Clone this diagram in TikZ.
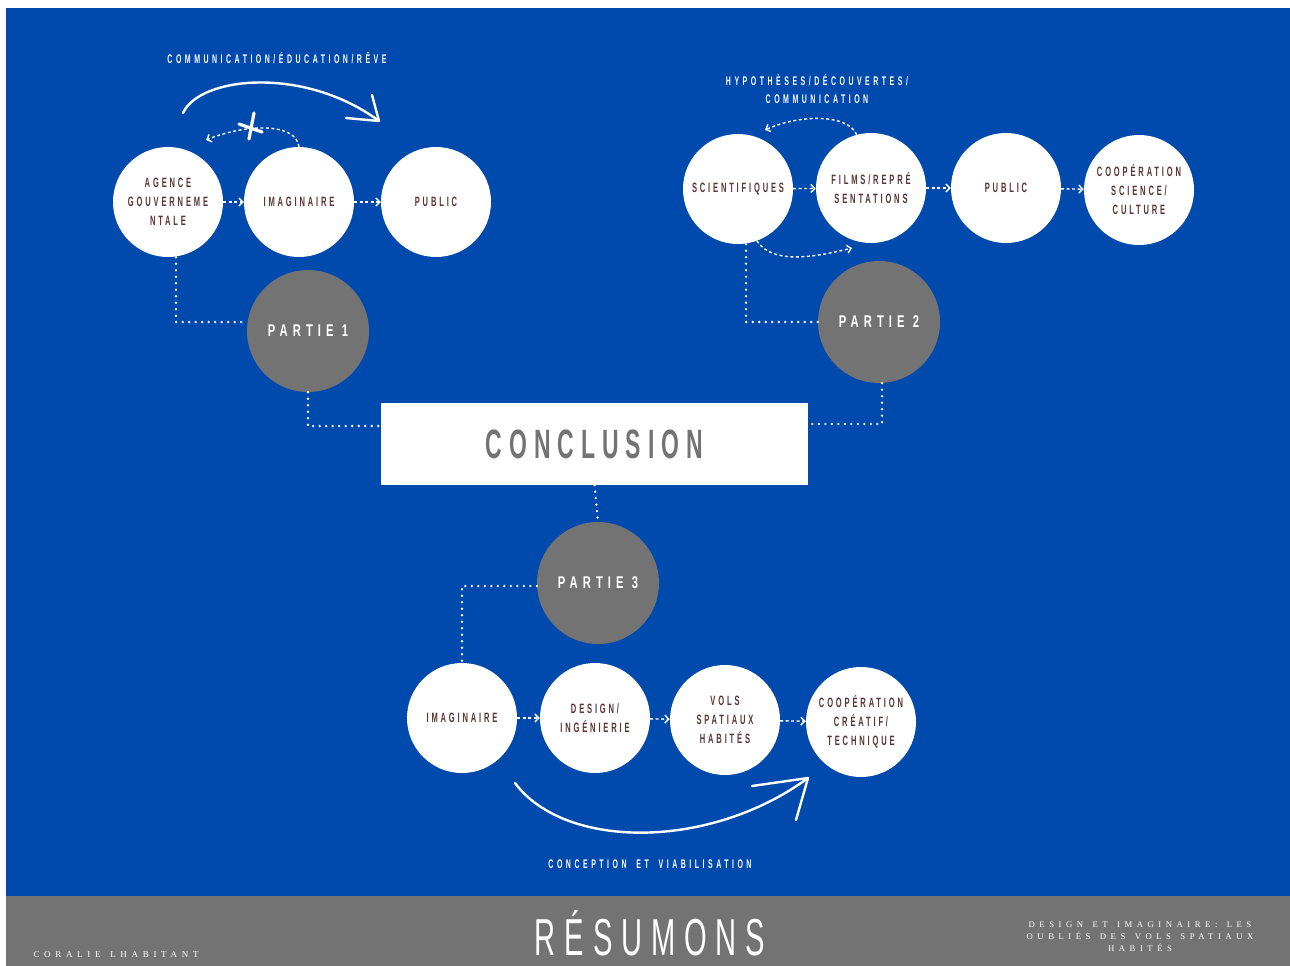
\documentclass[tikz,border=0pt]{standalone}
\usepackage{fontspec}
\usetikzlibrary{arrows.meta}
\setmainfont{Liberation Serif}
\newfontfamily\condfont[FakeStretch=0.66]{Liberation Sans}
\newfontfamily\narrowfont[FakeStretch=0.56, WordSpace=1.8]{Liberation Sans}
\newfontfamily\footfont[LetterSpace=52, WordSpace=1.4]{Liberation Serif}
\definecolor{bgblue}{HTML}{004AAD}
\definecolor{partgray}{HTML}{737373}
\definecolor{ink}{HTML}{5A3535}
\newcommand\circfont{\narrowfont\bfseries\fontsize{13.5}{19}\selectfont\addfontfeature{LetterSpace=21}}
\newcommand\labfont{\narrowfont\bfseries\fontsize{12.5}{18}\selectfont\addfontfeature{LetterSpace=28}}
\newcommand\partfont{\condfont\bfseries\fontsize{17}{20}\selectfont\addfontfeature{LetterSpace=30}}
\begin{document}
\begin{tikzpicture}[x=1pt, y=-1pt,
	circ/.style={circle, fill=white, minimum size=110, inner sep=0pt,
		align=center, text=ink, font=\circfont},
	part/.style={circle, fill=partgray, minimum size=122, inner sep=0pt,
		text=white, font=\partfont},
	lab/.style={text=white, align=center, font=\labfont},
	flow/.style={white, line width=1.4pt, dash pattern=on 3pt off 2.5pt,
		-{Straight Barb[length=4pt, width=8pt]}},
	dots/.style={white, line width=2.6pt, line cap=round,
		dash pattern=on 0pt off 6.5pt},
	chalk/.style={white, line width=2.4pt, line cap=round, line join=round}]
	\useasboundingbox (0,0) rectangle (1290,966);
	\fill[white] (0,0) rectangle (1290,966);
	\fill[bgblue] (6,8) rectangle (1290,896);
	\fill[partgray] (6,896) rectangle (1290,966);

	% partie 1
	\node[circ] (ag1) at (168,202) {AGENCE\\GOUVERNEME\\NTALE};
	\node[circ] (im1) at (299,202) {IMAGINAIRE};
	\node[circ] (pu1) at (436,202) {PUBLIC};
	\node[part] (p1) at (308,331) {PARTIE 1};
	\node[lab] (t1) at (277,58) {COMMUNICATION/ÉDUCATION/RÊVE};
	\coordinate (back1) at (206,140);
	\coordinate (c1s) at (183,113);
	\coordinate (c1e) at (379,121);
	\draw[flow] (ag1) -- (im1);
	\draw[flow] (im1) -- (pu1);
	\draw[flow] (im1.north) .. controls (296,122) and (245,124) .. (back1);
	\draw[chalk, line width=3.2pt] (254,113) -- (249,139) (239,124) -- (262,132);
	\draw[chalk] (c1s) .. controls (200,76) and (305,66) .. (c1e);
	\draw[chalk] (372,95) -- (c1e) -- (346,118);

	% partie 2
	\node[circ] (sc2) at (738,189) {SCIENTIFIQUES};
	\node[circ] (fi2) at (871,188) {FILMS/REPRÉ\\SENTATIONS};
	\node[circ] (pu2) at (1006,188) {PUBLIC};
	\node[circ] (co2) at (1139,190) {COOPÉRATION\\SCIENCE/\\CULTURE};
	\node[part] (p2) at (879,322) {PARTIE 2};
	\node[lab] (t2) at (817,89) {HYPOTHÈSES/DÉCOUVERTES/\\COMMUNICATION};
	\coordinate (back2) at (765,130);
	\coordinate (fwd2) at (852,248);
	\draw[flow] (sc2) -- (fi2);
	\draw[flow] (fi2) -- (pu2);
	\draw[flow] (pu2) -- (co2);
	\draw[flow] (fi2.105) .. controls (848,114) and (800,114) .. (back2);
	\draw[flow] (sc2.-70) .. controls (772,264) and (812,258) .. (fwd2);

	% conclusion
	\node[rectangle, fill=white, minimum width=427, minimum height=82,
		text=partgray, font=\narrowfont\bfseries\fontsize{41}{44}\selectfont\addfontfeature{LetterSpace=17}]
		(cc) at (594.5,444) {CONCLUSION};
	\draw[dots] ([xshift=8pt]ag1.south) |- ([yshift=9pt]p1.west);
	\draw[dots] (p1.south) |- ([yshift=18pt]cc.west);
	\draw[dots] ([xshift=8pt]sc2.south) |- (p2.west);
	\draw[dots] ([xshift=3pt]p2.south) |- ([yshift=20pt]cc.east);

	% partie 3
	\node[part] (p3) at (598,583) {PARTIE 3};
	\node[circ] (im3) at (462,718) {IMAGINAIRE};
	\node[circ] (de3) at (595,718) {DESIGN/\\INGÉNIERIE};
	\node[circ] (vo3) at (725,720) {VOLS\\SPATIAUX\\HABITÉS};
	\node[circ] (co3) at (861,722) {COOPÉRATION\\CRÉATIF/\\TECHNIQUE};
	\node[lab] (t3) at (650,864) {CONCEPTION ET VIABILISATION};
	\coordinate (c3s) at (515,783);
	\coordinate (c3e) at (808,778);
	\draw[dots] (cc.south) -- (p3.north);
	\draw[dots] ([yshift=-3pt]p3.west) -| (im3.north);
	\draw[flow] (im3) -- (de3);
	\draw[flow] (de3) -- (vo3);
	\draw[flow] (vo3) -- (co3);
	\draw[chalk] (c3s) .. controls (565,850) and (710,850) .. (c3e);
	\draw[chalk] (752,786) -- (c3e) -- (796,820);

	% footer
	\node[text=white, font=\narrowfont\fontsize{52}{56}\selectfont\addfontfeature{LetterSpace=17}]
		(ti) at (650,933) {RÉSUMONS};
	\node[text=white, anchor=west, font=\footfont\fontsize{9}{11}\selectfont]
		(au) at (30,955) {CORALIE LHABITANT};
	\node[text=white, align=center, font=\footfont\fontsize{8.7}{12}\selectfont]
		(su) at (1140,937) {DESIGN ET IMAGINAIRE: LES\\OUBLIÉS DES VOLS SPATIAUX\\HABITÉS};
\end{tikzpicture}
\end{document}
